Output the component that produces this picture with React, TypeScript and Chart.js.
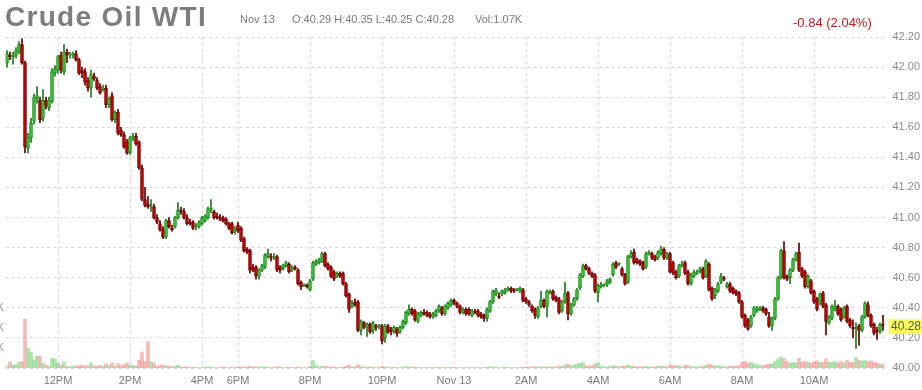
import React, { useEffect, useRef } from "react";
import { Chart, registerables } from "chart.js";

Chart.register(...registerables);

// ---------- data (5-minute candles, Nov 12 10:35 -> Nov 13 11:55, 17:00-18:00 break) ----------
const OPEN = [
  42.03, 42.08, 42.07, 42.08, 42.10, 42.15, 42.03, 41.46, 41.53, 41.64,
  41.79, 41.78, 41.66, 41.78, 41.73, 41.77, 41.96, 41.98, 42.08, 41.97,
  42.10, 42.08, 42.08, 42.09, 42.05, 41.98, 41.97, 41.91, 41.86, 41.94,
  41.91, 41.87, 41.85, 41.86, 41.75, 41.81, 41.65, 41.70, 41.58, 41.55,
  41.50, 41.43, 41.53, 41.54, 41.50, 41.33, 41.12, 41.09, 41.07, 41.07,
  41.00, 40.96, 40.92, 40.87, 40.98, 40.93, 40.94, 41.00, 41.05, 41.04,
  41.00, 40.97, 40.97, 40.94, 40.94, 40.96, 40.98, 41.00, 41.05, 41.04,
  41.01, 41.00, 41.00, 40.99, 40.96, 40.96, 40.91, 40.95, 40.93, 40.86,
  40.79, 40.78, 40.67, 40.67, 40.61, 40.65, 40.67, 40.74, 40.74, 40.73,
  40.74, 40.67, 40.66, 40.68, 40.69, 40.65, 40.67, 40.65, 40.57, 40.55,
  40.55, 40.52, 40.59, 40.69, 40.70, 40.71, 40.76, 40.69, 40.67, 40.64,
  40.61, 40.63, 40.63, 40.56, 40.49, 40.41, 40.44, 40.44, 40.25, 40.30,
  40.27, 40.29, 40.25, 40.28, 40.28, 40.28, 40.20, 40.28, 40.26, 40.24,
  40.26, 40.24, 40.27, 40.30, 40.36, 40.39, 40.38, 40.31, 40.35, 40.37,
  40.37, 40.36, 40.34, 40.35, 40.38, 40.40, 40.36, 40.40, 40.42, 40.45,
  40.43, 40.41, 40.37, 40.39, 40.39, 40.35, 40.38, 40.38, 40.36, 40.35,
  40.33, 40.38, 40.44, 40.49, 40.48, 40.49, 40.50, 40.52, 40.53, 40.52,
  40.52, 40.51, 40.52, 40.46, 40.44, 40.41, 40.39, 40.34, 40.41, 40.45,
  40.41, 40.50, 40.51, 40.47, 40.46, 40.38, 40.44, 40.50, 40.36, 40.42,
  40.46, 40.53, 40.61, 40.68, 40.66, 40.63, 40.62, 40.50, 40.54, 40.55,
  40.55, 40.57, 40.62, 40.70, 40.69, 40.66, 40.62, 40.57, 40.74, 40.77,
  40.72, 40.71, 40.70, 40.67, 40.76, 40.76, 40.74, 40.73, 40.76, 40.79,
  40.73, 40.76, 40.70, 40.64, 40.61, 40.68, 40.70, 40.64, 40.56, 40.61,
  40.63, 40.64, 40.66, 40.61, 40.69, 40.53, 40.48, 40.51, 40.57, 40.60,
  40.54, 40.56, 40.53, 40.51, 40.50, 40.44, 40.35, 40.32, 40.28, 40.35,
  40.38, 40.39, 40.40, 40.39, 40.34, 40.28, 40.33, 40.46, 40.60, 40.78,
  40.61, 40.60, 40.65, 40.72, 40.77, 40.66, 40.64, 40.54, 40.58, 40.51,
  40.46, 40.43, 40.50, 40.42, 40.30, 40.33, 40.39, 40.41, 40.39, 40.34,
  40.41, 40.32, 40.27, 40.26, 40.28, 40.25, 40.34, 40.42, 40.35, 40.29,
  40.25, 40.24, 40.29,
];
const HIGH = [
  42.11, 42.10, 42.10, 42.13, 42.17, 42.19, 42.04, 41.56, 41.66, 41.82,
  41.87, 41.80, 41.85, 41.80, 41.80, 41.99, 42.01, 42.08, 42.10, 42.15,
  42.12, 42.10, 42.10, 42.11, 42.06, 42.00, 41.99, 41.93, 41.98, 41.96,
  41.93, 41.89, 41.88, 41.88, 41.80, 41.83, 41.71, 41.72, 41.60, 41.57,
  41.52, 41.54, 41.56, 41.56, 41.51, 41.35, 41.20, 41.14, 41.12, 41.09,
  41.02, 40.98, 40.94, 40.99, 41.00, 40.95, 41.01, 41.10, 41.07, 41.06,
  41.02, 40.99, 40.98, 40.96, 40.98, 41.01, 41.02, 41.07, 41.12, 41.05,
  41.03, 41.02, 41.01, 41.00, 40.97, 40.97, 40.94, 40.97, 40.94, 40.87,
  40.80, 40.79, 40.69, 40.68, 40.66, 40.69, 40.76, 40.79, 40.76, 40.76,
  40.75, 40.68, 40.69, 40.71, 40.70, 40.68, 40.68, 40.66, 40.58, 40.56,
  40.56, 40.59, 40.71, 40.72, 40.73, 40.77, 40.77, 40.70, 40.68, 40.65,
  40.64, 40.64, 40.64, 40.57, 40.50, 40.45, 40.46, 40.45, 40.32, 40.31,
  40.30, 40.30, 40.31, 40.29, 40.29, 40.29, 40.29, 40.29, 40.27, 40.28,
  40.27, 40.28, 40.32, 40.38, 40.42, 40.40, 40.39, 40.37, 40.38, 40.39,
  40.38, 40.37, 40.37, 40.39, 40.42, 40.41, 40.42, 40.44, 40.46, 40.46,
  40.44, 40.42, 40.40, 40.40, 40.40, 40.39, 40.39, 40.39, 40.37, 40.36,
  40.40, 40.45, 40.52, 40.53, 40.50, 40.52, 40.53, 40.54, 40.54, 40.53,
  40.53, 40.54, 40.53, 40.47, 40.45, 40.42, 40.40, 40.41, 40.51, 40.46,
  40.52, 40.52, 40.52, 40.48, 40.47, 40.45, 40.57, 40.51, 40.43, 40.47,
  40.53, 40.63, 40.69, 40.69, 40.67, 40.64, 40.63, 40.56, 40.57, 40.56,
  40.59, 40.60, 40.70, 40.71, 40.70, 40.67, 40.63, 40.75, 40.78, 40.79,
  40.73, 40.72, 40.71, 40.77, 40.78, 40.77, 40.75, 40.78, 40.81, 40.80,
  40.77, 40.77, 40.71, 40.65, 40.69, 40.71, 40.71, 40.65, 40.63, 40.65,
  40.65, 40.67, 40.67, 40.72, 40.70, 40.54, 40.53, 40.57, 40.63, 40.61,
  40.57, 40.57, 40.54, 40.52, 40.51, 40.45, 40.36, 40.33, 40.35, 40.41,
  40.41, 40.41, 40.41, 40.40, 40.37, 40.34, 40.47, 40.61, 40.79, 40.84,
  40.62, 40.66, 40.73, 40.77, 40.83, 40.67, 40.65, 40.62, 40.59, 40.52,
  40.47, 40.50, 40.51, 40.43, 40.35, 40.42, 40.45, 40.42, 40.40, 40.41,
  40.42, 40.33, 40.32, 40.30, 40.29, 40.35, 40.44, 40.44, 40.36, 40.30,
  40.27, 40.30, 40.35,
];
const LOW = [
  42.00, 42.05, 42.02, 42.06, 42.09, 42.02, 41.43, 41.43, 41.50, 41.62,
  41.76, 41.63, 41.64, 41.72, 41.71, 41.76, 41.94, 41.96, 41.96, 41.95,
  42.03, 42.06, 42.06, 42.04, 41.95, 41.93, 41.88, 41.84, 41.80, 41.91,
  41.85, 41.82, 41.84, 41.73, 41.73, 41.64, 41.63, 41.55, 41.54, 41.46,
  41.42, 41.42, 41.51, 41.48, 41.32, 41.11, 41.07, 41.06, 41.04, 40.99,
  40.96, 40.91, 40.86, 40.86, 40.93, 40.91, 40.93, 40.99, 41.02, 40.99,
  40.95, 40.95, 40.92, 40.92, 40.93, 40.95, 40.97, 40.99, 41.03, 40.99,
  40.99, 40.98, 40.97, 40.95, 40.92, 40.89, 40.89, 40.90, 40.84, 40.77,
  40.76, 40.63, 40.64, 40.59, 40.59, 40.64, 40.66, 40.73, 40.71, 40.72,
  40.64, 40.63, 40.65, 40.67, 40.63, 40.64, 40.65, 40.55, 40.52, 40.54,
  40.53, 40.51, 40.58, 40.68, 40.69, 40.70, 40.67, 40.65, 40.60, 40.58,
  40.60, 40.60, 40.55, 40.47, 40.37, 40.40, 40.41, 40.24, 40.22, 40.26,
  40.21, 40.23, 40.23, 40.25, 40.26, 40.16, 40.17, 40.23, 40.22, 40.23,
  40.21, 40.23, 40.26, 40.29, 40.35, 40.35, 40.31, 40.30, 40.34, 40.35,
  40.34, 40.33, 40.33, 40.34, 40.37, 40.35, 40.35, 40.39, 40.41, 40.42,
  40.40, 40.36, 40.36, 40.35, 40.35, 40.34, 40.36, 40.34, 40.33, 40.31,
  40.31, 40.37, 40.43, 40.48, 40.46, 40.48, 40.49, 40.51, 40.50, 40.50,
  40.51, 40.50, 40.44, 40.43, 40.41, 40.37, 40.33, 40.33, 40.40, 40.40,
  40.34, 40.49, 40.45, 40.44, 40.36, 40.37, 40.43, 40.32, 40.35, 40.41,
  40.45, 40.52, 40.60, 40.65, 40.62, 40.60, 40.50, 40.44, 40.53, 40.54,
  40.54, 40.56, 40.61, 40.66, 40.68, 40.61, 40.55, 40.56, 40.73, 40.69,
  40.69, 40.68, 40.65, 40.66, 40.75, 40.72, 40.71, 40.72, 40.75, 40.72,
  40.72, 40.63, 40.62, 40.59, 40.60, 40.67, 40.62, 40.55, 40.55, 40.60,
  40.62, 40.63, 40.59, 40.60, 40.51, 40.45, 40.46, 40.50, 40.56, 40.58,
  40.53, 40.50, 40.49, 40.48, 40.43, 40.33, 40.27, 40.25, 40.27, 40.34,
  40.37, 40.38, 40.37, 40.35, 40.27, 40.25, 40.32, 40.45, 40.59, 40.59,
  40.58, 40.56, 40.64, 40.71, 40.64, 40.60, 40.53, 40.53, 40.49, 40.43,
  40.38, 40.42, 40.40, 40.22, 40.29, 40.32, 40.38, 40.35, 40.31, 40.33,
  40.30, 40.27, 40.20, 40.13, 40.15, 40.24, 40.33, 40.34, 40.27, 40.22,
  40.19, 40.23, 40.25,
];
const CLOSE = [
  42.09, 42.07, 42.08, 42.11, 42.15, 42.03, 41.47, 41.53, 41.63, 41.80,
  41.81, 41.65, 41.78, 41.74, 41.78, 41.97, 41.99, 42.07, 41.98, 42.10,
  42.08, 42.08, 42.09, 42.05, 41.96, 41.96, 41.90, 41.86, 41.95, 41.92,
  41.86, 41.83, 41.86, 41.75, 41.79, 41.65, 41.70, 41.56, 41.55, 41.47,
  41.43, 41.53, 41.54, 41.49, 41.33, 41.12, 41.08, 41.07, 41.08, 41.00,
  40.97, 40.92, 40.87, 40.98, 40.94, 40.92, 41.00, 41.05, 41.04, 41.00,
  40.96, 40.96, 40.93, 40.94, 40.97, 41.00, 41.01, 41.06, 41.06, 41.00,
  41.00, 40.99, 40.98, 40.96, 40.93, 40.90, 40.93, 40.91, 40.85, 40.78,
  40.77, 40.65, 40.65, 40.61, 40.65, 40.68, 40.75, 40.76, 40.73, 40.74,
  40.65, 40.65, 40.68, 40.70, 40.64, 40.67, 40.66, 40.56, 40.54, 40.55,
  40.54, 40.58, 40.70, 40.71, 40.72, 40.76, 40.68, 40.66, 40.61, 40.59,
  40.63, 40.61, 40.56, 40.48, 40.39, 40.43, 40.42, 40.25, 40.31, 40.27,
  40.29, 40.24, 40.30, 40.27, 40.28, 40.18, 40.28, 40.24, 40.24, 40.27,
  40.23, 40.27, 40.31, 40.37, 40.39, 40.36, 40.32, 40.36, 40.37, 40.36,
  40.35, 40.34, 40.36, 40.38, 40.41, 40.36, 40.41, 40.43, 40.45, 40.43,
  40.41, 40.37, 40.39, 40.36, 40.36, 40.38, 40.37, 40.35, 40.34, 40.33,
  40.39, 40.44, 40.51, 40.52, 40.47, 40.51, 40.52, 40.53, 40.51, 40.51,
  40.52, 40.53, 40.45, 40.44, 40.42, 40.38, 40.35, 40.40, 40.45, 40.41,
  40.51, 40.51, 40.46, 40.45, 40.37, 40.44, 40.50, 40.36, 40.42, 40.46,
  40.52, 40.62, 40.68, 40.66, 40.63, 40.61, 40.51, 40.55, 40.55, 40.55,
  40.58, 40.59, 40.69, 40.67, 40.69, 40.62, 40.56, 40.74, 40.76, 40.70,
  40.70, 40.69, 40.66, 40.76, 40.77, 40.73, 40.72, 40.77, 40.79, 40.73,
  40.76, 40.64, 40.63, 40.60, 40.68, 40.69, 40.63, 40.56, 40.62, 40.64,
  40.64, 40.66, 40.60, 40.71, 40.52, 40.46, 40.52, 40.56, 40.61, 40.59,
  40.56, 40.51, 40.50, 40.49, 40.44, 40.34, 40.28, 40.26, 40.34, 40.40,
  40.40, 40.40, 40.38, 40.36, 40.28, 40.33, 40.46, 40.60, 40.78, 40.60,
  40.59, 40.65, 40.72, 40.76, 40.65, 40.61, 40.54, 40.61, 40.50, 40.44,
  40.39, 40.49, 40.41, 40.31, 40.34, 40.41, 40.41, 40.36, 40.32, 40.40,
  40.31, 40.28, 40.26, 40.27, 40.25, 40.34, 40.43, 40.35, 40.28, 40.23,
  40.24, 40.29, 40.28,
];
const VOLUME_K = [
  0.5, 1.5, 0.7, 0.8, 1.5, 1.6, 12.2, 5.0, 4.0, 2.0,
  3.0, 3.0, 1.2, 0.7, 0.5, 2.4, 2.2, 1.2, 0.8, 1.6,
  0.4, 0.3, 0.5, 0.4, 0.6, 0.7, 0.5, 0.6, 1.3, 0.5,
  0.5, 0.6, 0.4, 1.0, 0.6, 1.2, 0.5, 1.1, 0.6, 0.8,
  1.2, 0.7, 0.6, 0.5, 2.0, 4.0, 1.6, 6.6, 1.6, 1.3,
  0.5, 0.6, 0.8, 0.6, 0.5, 0.3, 0.4, 0.7, 0.3, 0.2,
  0.2, 0.1, 0.2, 0.1, 0.1, 0.1, 0.2, 0.3, 0.2, 0.1,
  0.1, 0.1, 0.2, 0.1, 0.1, 0.2, 0.1, 0.3, 0.2, 0.3,
  0.2, 0.4, 0.2, 0.3, 0.2, 0.2, 0.3, 0.2, 0.1, 0.1,
  0.3, 0.2, 0.1, 0.1, 0.2, 0.1, 0.1, 0.2, 0.1, 0.1,
  0.1, 0.4, 1.9, 0.6, 0.3, 0.4, 0.5, 0.2, 0.3, 0.2,
  0.1, 0.1, 0.2, 0.4, 0.7, 0.3, 0.2, 0.8, 0.4, 0.2,
  0.2, 0.2, 0.2, 0.1, 0.1, 0.4, 0.3, 0.2, 0.1, 0.2,
  0.1, 0.1, 0.2, 0.3, 0.3, 0.2, 0.2, 0.1, 0.1, 0.1,
  0.1, 0.1, 0.1, 0.1, 0.2, 0.1, 0.1, 0.1, 0.2, 0.1,
  0.1, 0.1, 0.1, 0.1, 0.1, 0.1, 0.1, 0.1, 0.1, 0.1,
  0.2, 0.3, 0.3, 0.2, 0.1, 0.1, 0.2, 0.1, 0.1, 0.1,
  0.1, 0.1, 0.2, 0.2, 0.2, 0.3, 0.3, 0.2, 0.3, 0.2,
  0.3, 0.2, 0.2, 0.2, 0.5, 0.4, 0.8, 1.0, 0.6, 0.7,
  0.9, 1.2, 1.3, 0.6, 0.5, 0.4, 1.0, 1.2, 0.5, 0.3,
  0.3, 0.4, 0.6, 0.4, 0.3, 0.4, 0.5, 0.7, 0.5, 0.4,
  0.3, 0.3, 0.3, 0.4, 0.3, 0.2, 0.2, 0.4, 0.5, 0.4,
  0.3, 0.8, 0.6, 0.5, 0.6, 0.3, 0.7, 0.6, 0.4, 0.3,
  0.3, 0.3, 0.5, 0.6, 0.9, 0.7, 0.5, 0.6, 0.5, 0.3,
  0.3, 0.5, 0.4, 0.5, 0.6, 1.4, 1.6, 1.2, 1.5, 1.0,
  0.8, 0.6, 0.6, 0.8, 1.0, 1.0, 1.6, 2.2, 2.8, 2.4,
  1.6, 1.2, 1.4, 1.3, 2.5, 1.5, 1.6, 1.4, 1.2, 1.5,
  1.8, 1.3, 1.4, 2.3, 1.5, 1.4, 1.6, 1.3, 1.6, 1.2,
  1.9, 1.5, 1.4, 2.6, 1.9, 1.7, 2.0, 1.6, 1.8, 1.4,
  1.3, 1.0, 1.07,
];
const TICK_TIMES = ["12:00", "14:00", "16:00", "18:00", "20:00", "22:00", "00:00", "02:00", "04:00", "06:00", "08:00", "10:00"];
const TICK_LABELS = ["12PM", "2PM", "4PM", "6PM", "8PM", "10PM", "Nov 13", "2AM", "4AM", "6AM", "8AM", "10AM"];
const VOLUME_TICKS_K = [5, 10, 15];
const PRICE_MIN = 40.0;
const PRICE_MAX = 42.2;
const PRICE_STEP = 0.2;

const TITLE = "Crude Oil WTI";
const DATE_TEXT = "Nov 13";
const OHLC_TEXT = "O:40.29 H:40.35 L:40.25 C:40.28";
const VOL_TEXT = "Vol:1.07K";
const CHANGE_TEXT = "-0.84 (2.04%)";

// category labels: 5-minute session times starting 10:35, skipping the 17:00-18:00 break
function buildTimes(n: number): string[] {
  const out: string[] = [];
  let m = 10 * 60 + 35;
  while (out.length < n) {
    const mm = m % 1440;
    if (!(mm >= 17 * 60 && mm < 18 * 60)) {
      out.push(String(Math.floor(mm / 60)).padStart(2, "0") + ":" + String(mm % 60).padStart(2, "0"));
    }
    m += 5;
  }
  return out;
}
const TIMES = buildTimes(CLOSE.length);

const FONT = '"Liberation Sans", Arial, Helvetica, sans-serif';

const extrasPlugin = {
  id: "extras",
  afterDraw(chart: any) {
    const { ctx } = chart;
    const yv = chart.scales.yv;
    const y = chart.scales.y;
    ctx.save();
    ctx.font = "11px " + FONT;
    ctx.fillStyle = "#9a9a9a";
    ctx.textAlign = "right";
    ctx.textBaseline = "middle";
    VOLUME_TICKS_K.forEach((v) => ctx.fillText(v + "K", 4, yv.getPixelForValue(v)));
    const last = CLOSE[CLOSE.length - 1];
    const py = y.getPixelForValue(last);
    ctx.fillStyle = "#ffff5c";
    ctx.fillRect(889, Math.round(py) - 7, 33, 15);
    ctx.fillStyle = "#555";
    ctx.textAlign = "left";
    ctx.font = "12px " + FONT;
    ctx.fillText(last.toFixed(2), 891, py + 1);
    ctx.restore();
  },
};

export default function App() {
  const ref = useRef<HTMLCanvasElement | null>(null);

  useEffect(() => {
    const canvas = ref.current;
    if (!canvas) return;
    const up = CLOSE.map((c, i) => c >= OPEN[i]);
    const chart = new Chart(canvas, {
      type: "bar",
      data: {
        labels: TIMES,
        datasets: [
          {
            label: "body",
            data: OPEN.map((o, i) => [o, CLOSE[i]]) as any,
            backgroundColor: up.map((u) => (u ? "#35c935" : "#d00000")),
            borderColor: up.map((u) => (u ? "#1f8a1f" : "#6e0000")),
            borderWidth: 1,
            borderSkipped: false,
            barThickness: 3,
            minBarLength: 1,
            grouped: false,
            yAxisID: "y",
          } as any,
          {
            label: "wick",
            data: LOW.map((l, i) => [l, HIGH[i]]) as any,
            backgroundColor: up.map((u) => (u ? "#1d7a1d" : "#5e0000")),
            borderWidth: 0,
            barThickness: 1,
            grouped: false,
            yAxisID: "y",
          } as any,
          {
            label: "volume",
            data: VOLUME_K,
            backgroundColor: up.map((u) => (u ? "rgba(120,210,120,0.6)" : "rgba(240,140,140,0.6)")),
            borderWidth: 0,
            barThickness: 3,
            grouped: false,
            yAxisID: "yv",
          } as any,
        ],
      },
      options: {
        responsive: false,
        maintainAspectRatio: false,
        animation: false,
        devicePixelRatio: 1,
        events: [],
        layout: { padding: { left: 5.5, top: 37, right: 0, bottom: 0 } },
        plugins: { legend: { display: false }, tooltip: { enabled: false }, title: { display: false } },
        scales: {
          x: {
            type: "category",
            offset: true,
            grid: { color: "#d6d6d6", offset: false, drawTicks: false },
            border: { display: false, dash: [3, 3] },
            afterBuildTicks: (scale: any) => {
              scale.ticks = scale.ticks.filter((t: any) => TICK_TIMES.includes(TIMES[t.value]));
            },
            afterFit: (scale: any) => {
              scale.height = 22;
            },
            ticks: {
              autoSkip: false,
              maxRotation: 0,
              padding: 6,
              color: "#7a7a7a",
              font: { family: FONT, size: 11 },
              callback: function (this: any, value: any) {
                const k = TICK_TIMES.indexOf(TIMES[value]);
                return k >= 0 ? TICK_LABELS[k] : "";
              },
            },
          },
          y: {
            position: "right",
            min: PRICE_MIN,
            max: PRICE_MAX,
            grid: { color: "#d6d6d6", drawTicks: false },
            border: { display: false, dash: [3, 3] },
            afterFit: (scale: any) => {
              scale.width = 37.5;
            },
            ticks: {
              stepSize: PRICE_STEP,
              padding: 8,
              color: "#8a8a8a",
              font: { family: FONT, size: 11 },
              callback: (v: any) => Number(v).toFixed(2),
            },
          },
          yv: {
            display: false,
            position: "left",
            min: 0,
            max: 82.75,
          },
        },
      } as any,
      plugins: [extrasPlugin],
    });
    return () => chart.destroy();
  }, []);

  const small: React.CSSProperties = {
    position: "absolute",
    fontFamily: FONT,
    fontSize: 11,
    lineHeight: "11px",
    color: "#7a7a7a",
    whiteSpace: "pre",
  };

  return (
    <div style={{ position: "absolute", left: 0, top: 0, width: 922, height: 390, background: "#fff", overflow: "hidden" }}>
      <canvas ref={ref} width={922} height={390} style={{ position: "absolute", left: 0, top: 0, width: 922, height: 390 }} />
      <div
        style={{
          position: "absolute",
          left: 5,
          top: 3,
          fontFamily: FONT,
          fontWeight: 700,
          fontSize: 28,
          letterSpacing: "1.3px",
          lineHeight: "28px",
          color: "#7d7d7d",
          whiteSpace: "pre",
        }}
      >
        {TITLE}
      </div>
      <div style={{ ...small, left: 240, top: 14 }}>{DATE_TEXT}</div>
      <div style={{ ...small, left: 292, top: 14 }}>{OHLC_TEXT}</div>
      <div style={{ ...small, left: 475, top: 14 }}>{VOL_TEXT}</div>
      <div
        style={{
          position: "absolute",
          left: 793,
          top: 16,
          fontFamily: FONT,
          fontSize: 13,
          lineHeight: "13px",
          color: "#c8161d",
          whiteSpace: "pre",
        }}
      >
        {CHANGE_TEXT}
      </div>
    </div>
  );
}
